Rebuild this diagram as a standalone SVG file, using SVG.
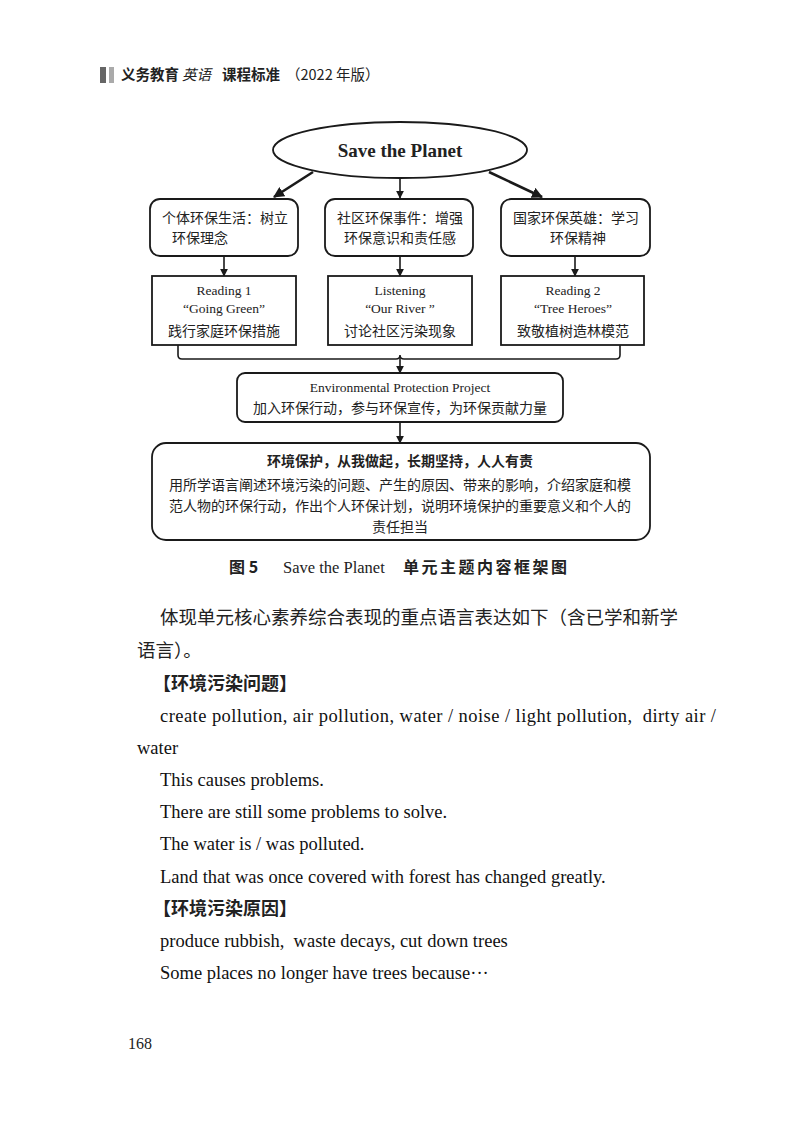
<svg xmlns="http://www.w3.org/2000/svg" width="800" height="1130" viewBox="0 0 800 1130">
<style>
.bx{fill:#fff;stroke:#1a1a1a;stroke-width:1.8}
.ln{fill:none;stroke:#1a1a1a;stroke-width:1.6}
.lnb{fill:none;stroke:#1a1a1a;stroke-width:2.6}
.zh{font-family:"Noto Sans CJK SC",sans-serif;fill:#222}
.en{font-family:"Liberation Serif",serif;fill:#222}
.c{text-anchor:middle}
.body{font-family:"Liberation Serif","Noto Sans CJK SC",serif;font-size:18.5px;fill:#111;white-space:pre}
</style>
<defs>
<marker id="ah" viewBox="0 0 10 10" refX="9" refY="5" markerWidth="8" markerHeight="8" markerUnits="userSpaceOnUse" orient="auto">
<path d="M0,0 L10,5 L0,10 z" fill="#1a1a1a"/>
</marker>
<marker id="ahb" viewBox="0 0 10 10" refX="9" refY="5" markerWidth="11" markerHeight="11" markerUnits="userSpaceOnUse" orient="auto">
<path d="M0,0 L10,5 L0,10 z" fill="#1a1a1a"/>
</marker>
</defs>
<rect width="800" height="1130" fill="#fff"/>

<g id="header">
<rect x="100" y="67" width="6" height="16" fill="#666"/>
<rect x="109" y="67" width="5" height="16" fill="#aaa"/>
<text x="121" y="80" class="zh" font-size="14.5" font-weight="bold">义务教育</text>
<text x="182" y="80" class="zh" font-size="14.5" font-style="italic" fill="#444">英语</text>
<text x="222" y="80" class="zh" font-size="14.5" font-weight="bold">课程标准</text>
<text x="286" y="80" class="zh" font-size="14.5" fill="#444">（2022 年版）</text>
</g>

<g id="connectors">
<line class="lnb" x1="313" y1="172" x2="274" y2="197" marker-end="url(#ahb)"/>
<line class="ln" x1="400" y1="178" x2="400" y2="198" marker-end="url(#ah)"/>
<line class="lnb" x1="489" y1="172" x2="542" y2="197" marker-end="url(#ahb)"/>
<line class="ln" x1="224" y1="256" x2="224" y2="276" marker-end="url(#ah)"/>
<line class="ln" x1="400" y1="256" x2="400" y2="276" marker-end="url(#ah)"/>
<line class="ln" x1="575" y1="256" x2="575" y2="276" marker-end="url(#ah)"/>
<path class="ln" d="M178,345 V355 Q178,359 182,359 H396 Q400,359 400,355 Q400,359 404,359 H616 Q620,359 620,355 V345"/>
<line class="ln" x1="400" y1="357" x2="400" y2="373" marker-end="url(#ah)"/>
<line class="ln" x1="400" y1="422" x2="400" y2="443" marker-end="url(#ah)"/>
</g>

<g id="root">
<ellipse class="bx" cx="400" cy="150" rx="127" ry="28"/>
<text x="400" y="157" class="en c" font-size="19" font-weight="bold" fill="#111">Save the Planet</text>
</g>

<g id="n1">
<rect class="bx" x="150" y="199" width="148" height="57" rx="10"/>
<text x="225" y="223" class="zh c" font-size="14">个体环保生活：树立</text>
<text x="200" y="243" class="zh c" font-size="14">环保理念</text>
</g>
<g id="n2">
<rect class="bx" x="325" y="199" width="148" height="57" rx="10"/>
<text x="400" y="223" class="zh c" font-size="14">社区环保事件：增强</text>
<text x="400" y="243" class="zh c" font-size="14">环保意识和责任感</text>
</g>
<g id="n3">
<rect class="bx" x="501" y="199" width="149" height="57" rx="10"/>
<text x="576" y="223" class="zh c" font-size="14">国家环保英雄：学习</text>
<text x="578" y="243" class="zh c" font-size="14">环保精神</text>
</g>

<g id="r1">
<rect class="bx" x="152" y="276" width="144" height="69"/>
<text x="224" y="295" class="en c" font-size="13.5">Reading 1</text>
<text x="224" y="313" class="en c" font-size="13.5">“Going Green”</text>
<text x="224" y="336" class="zh c" font-size="14">践行家庭环保措施</text>
</g>
<g id="r2">
<rect class="bx" x="328" y="276" width="144" height="69"/>
<text x="400" y="295" class="en c" font-size="13.5">Listening</text>
<text x="400" y="313" class="en c" font-size="13.5">“Our River ”</text>
<text x="400" y="336" class="zh c" font-size="14">讨论社区污染现象</text>
</g>
<g id="r3">
<rect class="bx" x="501" y="276" width="143" height="69"/>
<text x="573" y="295" class="en c" font-size="13.5">Reading 2</text>
<text x="573" y="313" class="en c" font-size="13.5">“Tree Heroes”</text>
<text x="573" y="336" class="zh c" font-size="14">致敬植树造林模范</text>
</g>

<g id="project">
<rect class="bx" x="237" y="373" width="326" height="49" rx="8"/>
<text x="400" y="392" class="en c" font-size="13.5">Environmental Protection Project</text>
<text x="400" y="413" class="zh c" font-size="14">加入环保行动，参与环保宣传，为环保贡献力量</text>
</g>

<g id="goal">
<rect class="bx" x="152" y="443" width="498" height="97" rx="14"/>
<text x="400" y="466" class="zh c" font-size="14" font-weight="bold">环境保护，从我做起，长期坚持，人人有责</text>
<text x="400" y="490" class="zh c" font-size="14">用所学语言阐述环境污染的问题、产生的原因、带来的影响，介绍家庭和模</text>
<text x="400" y="511" class="zh c" font-size="14">范人物的环保行动，作出个人环保计划，说明环境保护的重要意义和个人的</text>
<text x="400" y="532" class="zh c" font-size="14">责任担当</text>
</g>

<g id="caption">
<text x="229" y="573" class="zh" font-size="16" font-weight="bold">图 5</text>
<text x="283" y="573" class="en" font-size="16.5" fill="#111">Save the Planet</text>
<text x="403" y="573" class="zh" font-size="16" font-weight="bold" letter-spacing="2.5">单元主题内容框架图</text>
</g>

<g id="body">
<text x="160" y="624" class="zh" font-size="18.5" fill="#111">体现单元核心素养综合表现的重点语言表达如下（含已学和新学</text>
<text x="137" y="657" class="zh" font-size="18.5" fill="#111">语言）。</text>
<text x="153" y="690" class="zh" font-size="18" font-weight="bold" fill="#111">【环境污染问题】</text>
<text x="160" y="722" class="body" textLength="556" lengthAdjust="spacing">create pollution, air pollution, water / noise / light pollution,  dirty air /</text>
<text x="137" y="754" class="body">water</text>
<text x="160" y="786" class="body">This causes problems.</text>
<text x="160" y="818" class="body">There are still some problems to solve.</text>
<text x="160" y="850" class="body">The water is / was polluted.</text>
<text x="160" y="883" class="body">Land that was once covered with forest has changed greatly.</text>
<text x="153" y="915" class="zh" font-size="18" font-weight="bold" fill="#111">【环境污染原因】</text>
<text x="160" y="947" class="body">produce rubbish,  waste decays, cut down trees</text>
<text x="160" y="979" class="body">Some places no longer have trees because···</text>
<text x="128" y="1049" class="en" font-size="16" fill="#111">168</text>
</g>
</svg>
